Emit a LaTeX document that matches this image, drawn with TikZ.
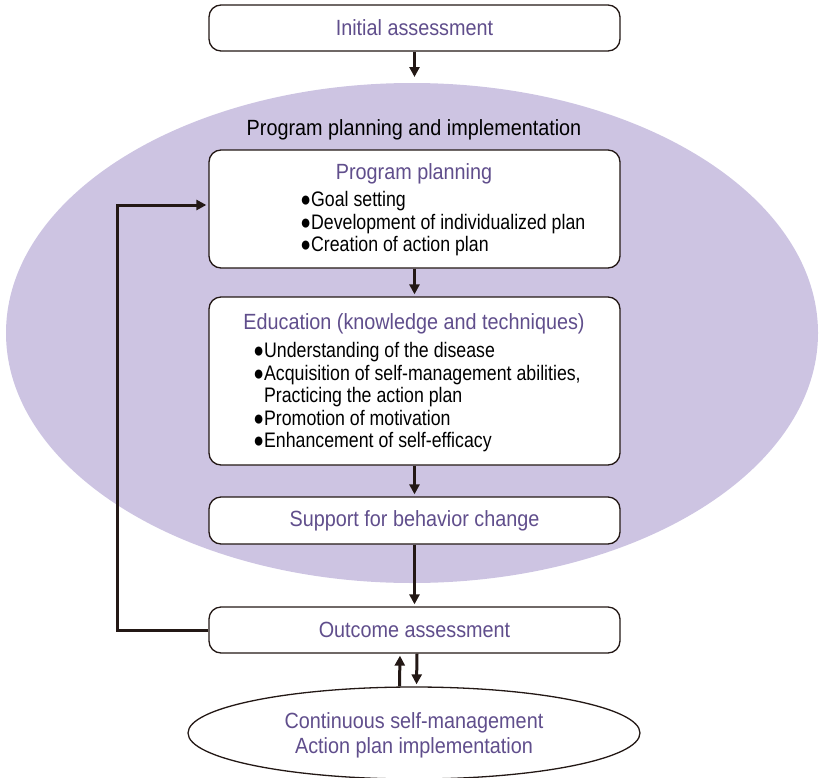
\documentclass[tikz,border=0pt]{standalone}
\usepackage{fontspec}
\setmainfont{Liberation Sans}[FakeStretch=0.9]
\newfontfamily\itemfont{Liberation Sans}[FakeStretch=0.845]
\usetikzlibrary{arrows.meta,shapes.geometric}
\definecolor{mypurple}{RGB}{96,78,140}
\definecolor{mylilac}{RGB}{205,196,226}
\definecolor{mydark}{RGB}{35,24,21}

\begin{document}
\begin{tikzpicture}[x=0.5pt,y=-0.5pt,
  stepbox/.style={draw=mydark, line width=0.65pt, fill=white, rounded corners=6pt, minimum width=205.5pt, inner sep=0pt},
  titletext/.style={text=mypurple, font=\fontsize{11}{12.5}\selectfont, inner sep=0pt},
  itemtext/.style={align=left, font=\itemfont\fontsize{10.5}{11.25}\selectfont, inner sep=0pt, anchor=north west},
  flow/.style={draw=mydark, line width=1.5pt, shorten >=1pt, -{Triangle[width=5pt,length=5pt]}}]
\useasboundingbox (0,0) rectangle (819,777);

% background ellipse
\fill[mylilac] (412,333) ellipse [x radius=203pt, y radius=125pt];
\node[font=\fontsize{11}{12.5}\selectfont, inner sep=0pt] (pphead) at (414,130) {Program planning and implementation};

\node[stepbox, titletext, minimum height=23pt] (init) at (414.5,28) {Initial assessment};

\node[stepbox, minimum height=59pt] (plan) at (414.5,209) {};
\node[titletext] (plantitle) at (414,174) {Program planning};
\node[itemtext] (planitems) at (300,191) {●Goal setting\\●Development of individualized plan\\●Creation of action plan};

\node[stepbox, minimum height=84pt] (edu) at (414.5,381) {};
\node[titletext] (edutitle) at (414,324) {Education (knowledge and techniques)};
\node[itemtext] (eduitems) at (253,342) {●Understanding of the disease\\●Acquisition of self-management abilities,\\\phantom{●}Practicing the action plan\\●Promotion of motivation\\●Enhancement of self-efficacy};

\node[stepbox, titletext, minimum height=23.5pt] (supp) at (414.5,520.5) {Support for behavior change};
\node[stepbox, titletext, minimum height=23pt] (outc) at (414.5,630) {Outcome assessment};

\node[ellipse, draw=mydark, line width=0.65pt, fill=white, minimum width=226pt, minimum height=46pt, inner sep=0pt, align=center, text=mypurple, font=\fontsize{11}{12.5}\selectfont] (cont) at (414,733) {\rule{0pt}{10pt}Continuous self-management\\Action plan implementation};

% draw the arrows
\coordinate (pptop) at (414.5,79);
\draw[flow] (init) -- (pptop);
\draw[flow] (plan) -- (edu);
\draw[flow] (edu) -- (supp);
\draw[flow] (supp) -- (outc);
\draw[flow] (outc.west) -- ++(-91,0) |- ([yshift=2pt]plan.west);
\draw[flow] ([xshift=-7.25pt]cont.north) -- ([xshift=-7.25pt]outc.south);
\draw[flow] ([xshift=1.25pt]outc.south) -- ([xshift=1.25pt]cont.north);

\end{tikzpicture}
\end{document}
